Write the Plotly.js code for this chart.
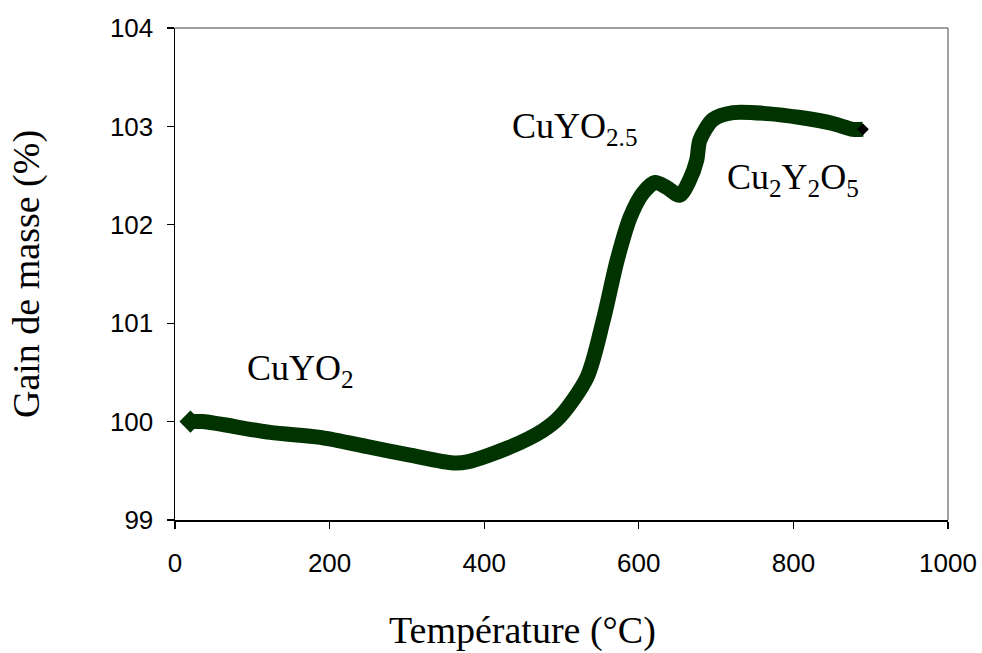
<!DOCTYPE html>
<html>
<head>
<meta charset="utf-8">
<script src="https://cdn.plot.ly/plotly-3.0.1.min.js"></script>
<style>html,body{margin:0;padding:0;background:#fff;}#chart{width:982px;height:653px;}</style>
</head>
<body>
<div id="chart"></div>
<script>
const temperature = [20, 36, 123, 188, 252, 304, 360, 378, 433, 476, 498, 533, 554, 572, 589, 605, 621, 636, 653, 666, 675, 679, 696, 722, 766, 809, 851, 877, 890];
const massGain = [100.0, 100.0, 99.89, 99.84, 99.74, 99.66, 99.58, 99.59, 99.74, 99.91, 100.05, 100.45, 101.03, 101.64, 102.08, 102.32, 102.43, 102.38, 102.30, 102.46, 102.66, 102.86, 103.07, 103.14, 103.13, 103.09, 103.03, 102.97, 102.97];
const phaseLabels = ["CuYO<sub>2</sub>", "CuYO<sub>2.5</sub>", "Cu<sub>2</sub>Y<sub>2</sub>O<sub>5</sub>"];
const phaseX = [90, 433, 711];
const phaseY = [100.52, 102.98, 102.46];
const xTicks = [0, 200, 400, 600, 800, 1000];
const yTicks = [99, 100, 101, 102, 103, 104];
const xTitle = 'Température (°C)';
const yTitle = 'Gain de masse (%)';

const serif = "'Liberation Serif', 'Times New Roman', serif";
const sans = "'Liberation Sans', Arial, sans-serif";

const traces = [
  {
    x: temperature, y: massGain, type: 'scatter', mode: 'lines',
    line: {color: '#003300', width: 15, shape: 'spline', smoothing: 0.8},
    hoverinfo: 'x+y', showlegend: false
  },
  {
    x: [temperature[0]], y: [massGain[0]], type: 'scatter', mode: 'markers',
    marker: {symbol: 'diamond', size: 17, color: '#003300'}, showlegend: false
  },
  {
    x: [temperature[temperature.length - 1]], y: [massGain[massGain.length - 1]], type: 'scatter', mode: 'markers',
    marker: {symbol: 'diamond', size: 9, color: '#000000'}, showlegend: false
  }
];

const annotations = phaseLabels.map((t, i) => ({
  x: phaseX[i], y: phaseY[i], xref: 'x', yref: 'y', text: t, showarrow: false,
  xanchor: 'left', yanchor: 'middle',
  font: {family: serif, size: 36, color: '#000'}
}));
annotations.push({
  x: 0.449, y: -0.2236, xref: 'paper', yref: 'paper', text: xTitle, showarrow: false,
  xanchor: 'center', yanchor: 'middle',
  font: {family: serif, size: 38, color: '#000'}
});

const layout = {
  width: 982, height: 653,
  margin: {l: 175, r: 34, t: 28, b: 133},
  paper_bgcolor: '#fff', plot_bgcolor: '#fff',
  showlegend: false,
  xaxis: {
    range: [0, 1000], tickvals: xTicks, ticktext: xTicks.map(String),
    showgrid: false, zeroline: false, showline: true, linecolor: '#000', linewidth: 1.5,
    ticks: 'outside', ticklen: 7, tickcolor: '#000', tickwidth: 1.2,
    ticklabelstandoff: 12,
    tickfont: {family: sans, size: 26, color: '#000'}
  },
  yaxis: {
    range: [99, 104], tickvals: yTicks, ticktext: yTicks.map(String),
    showgrid: false, zeroline: false, showline: true, linecolor: '#000', linewidth: 1.5,
    ticks: 'outside', ticklen: 7, tickcolor: '#000', tickwidth: 1.2,
    ticklabelstandoff: 8,
    tickfont: {family: sans, size: 26, color: '#000'},
    title: {text: yTitle, font: {family: serif, size: 38, color: '#000'}, standoff: 58}
  },
  shapes: [
    {type: 'line', xref: 'paper', yref: 'paper', x0: 0, x1: 1, y0: 1, y1: 1, line: {color: '#808080', width: 1.5}},
    {type: 'line', xref: 'paper', yref: 'paper', x0: 1, x1: 1, y0: 0, y1: 1, line: {color: '#808080', width: 1.5}}
  ],
  annotations: annotations
};

Plotly.newPlot('chart', traces, layout, {displayModeBar: false, staticPlot: true});
</script>
</body>
</html>
